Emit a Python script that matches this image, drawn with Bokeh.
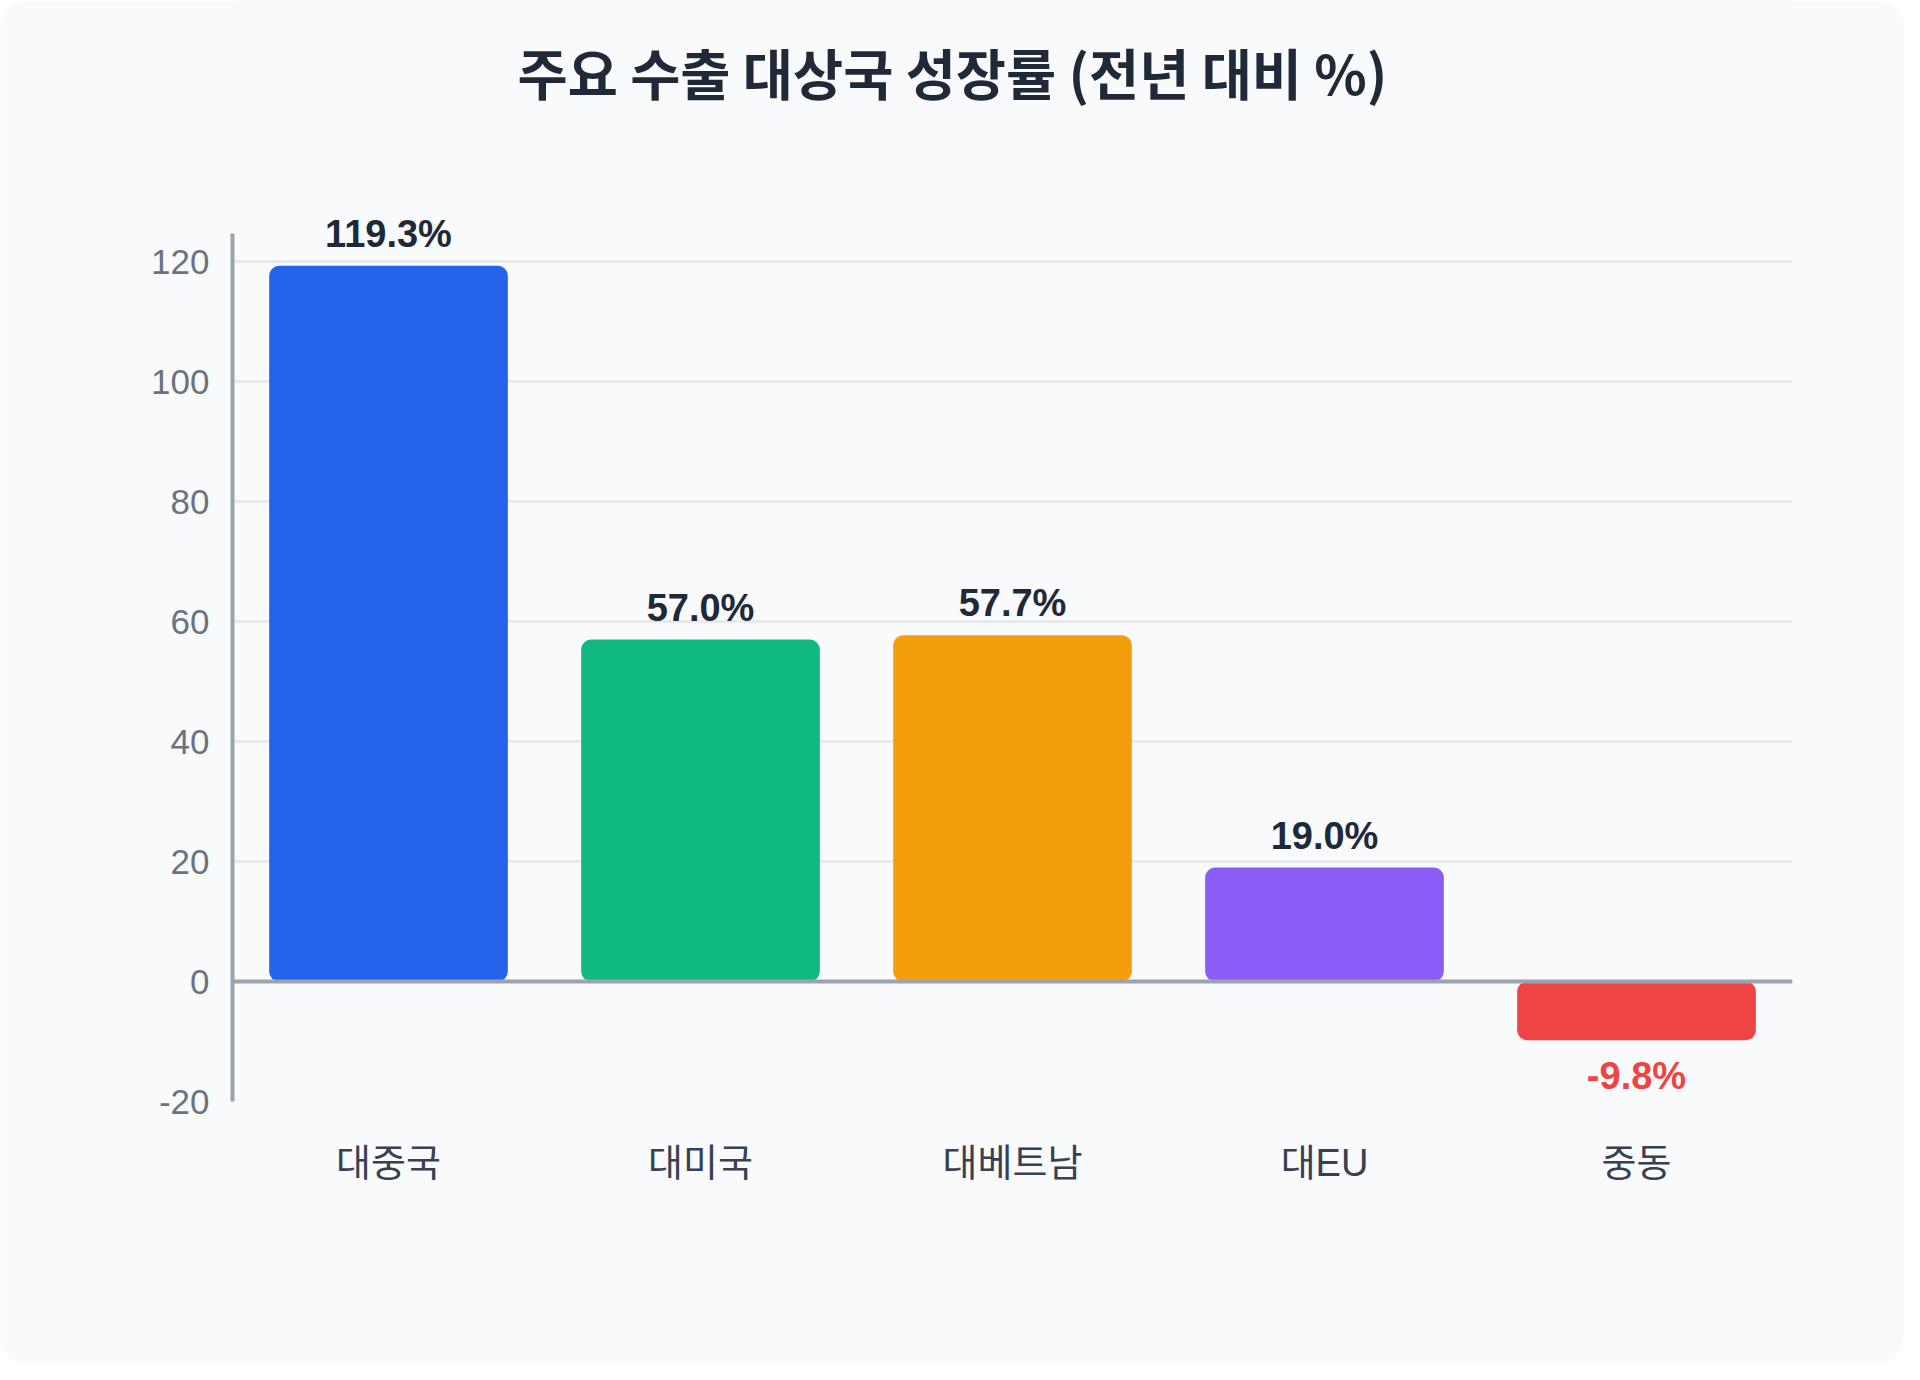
from bokeh.plotting import figure
from bokeh.models import (ColumnDataSource, LabelSet, Label, Span, FixedTicker, FactorRange,
                          Range1d, CustomJSTickFormatter)
from bokeh.core.properties import value
from bokeh.embed import file_html
from bokeh.resources import INLINE

# data
title_text = "주요 수출 대상국 성장률 (전년 대비 %)"
categories = ["대중국", "대미국", "대베트남", "대EU", "중동"]
growth = [119.3, 57.0, 57.7, 19.0, -9.8]
bar_colors = ["#2563eb", "#10b981", "#f59e0b", "#8b5cf6", "#ef4444"]
y_ticks = [-20, 0, 20, 40, 60, 80, 100, 120]

BG = "#f9fafb"
NUM_FONT = "Liberation Sans, Noto Sans CJK KR"
KR_FONT = "Noto Sans CJK KR"

src = ColumnDataSource(dict(
    cat=categories,
    val=growth,
    color=bar_colors,
    label=["%.1f%%" % v for v in growth],
    label_color=["#ef4444" if v < 0 else "#1f2937" for v in growth],
    offset=[-36 if v < 0 else 32 for v in growth],
))

# the frame runs up to the top of the card so the title (a Label) is not clipped;
# the y axis line is limited with bounds
p = figure(x_range=FactorRange(factors=categories, range_padding=0),
           y_range=Range1d(-20, 163.5),
           width=1904, height=1364, output_backend="svg",
           toolbar_location=None, tools="",
           min_border_left=232, min_border_right=112,
           min_border_top=0, min_border_bottom=263,
           background_fill_color=BG, border_fill_color=BG,
           outline_line_color=None)
p.styles = {"border-radius": "28px", "overflow": "hidden"}
p.title.visible = False

p.vbar(x="cat", top="val", bottom=0, width=0.765, source=src,
       fill_color="color", line_color=None, border_radius=10)

# zero line
p.add_layout(Span(location=0, dimension="width", line_color="#9ca3af", line_width=4))

# value labels
p.add_layout(LabelSet(x="cat", y="val", text="label", source=src,
                      y_offset="offset", text_align="center", text_baseline="middle",
                      text_font=value(NUM_FONT), text_font_size=value("38px"),
                      text_font_style="bold", text_color="label_color"))

# title, centred on the card (screen units are relative to the frame)
p.add_layout(Label(x=720, y=1030, x_units="screen", y_units="screen",
                   text=title_text, text_align="center", text_baseline="middle",
                   text_font=KR_FONT, text_font_size="54.5px", text_font_style="bold",
                   text_color="#1f2937"))

# axes
p.xgrid.grid_line_color = None
p.ygrid.grid_line_color = "#e5e7eb"
p.ygrid.grid_line_width = 2.5
p.yaxis.ticker = FixedTicker(ticks=y_ticks)
p.yaxis.formatter = CustomJSTickFormatter(code="return String(tick);")
p.yaxis.bounds = (-20, 124.7)

p.yaxis.axis_line_color = "#9ca3af"
p.yaxis.axis_line_width = 4
p.yaxis.major_tick_line_color = None
p.yaxis.minor_tick_line_color = None
p.yaxis.major_label_standoff = 17
p.yaxis.major_label_text_font = NUM_FONT
p.yaxis.major_label_text_font_size = "35px"
p.yaxis.major_label_text_color = "#6b7280"

p.xaxis.axis_line_color = None
p.xaxis.major_tick_line_color = None
p.xaxis.minor_tick_line_color = None
p.xaxis.major_label_standoff = 34
p.xaxis.major_label_text_font = NUM_FONT
p.xaxis.major_label_text_font_size = "38px"
p.xaxis.major_label_text_color = "#374151"

open("out.html", "w").write(file_html(p, INLINE))
